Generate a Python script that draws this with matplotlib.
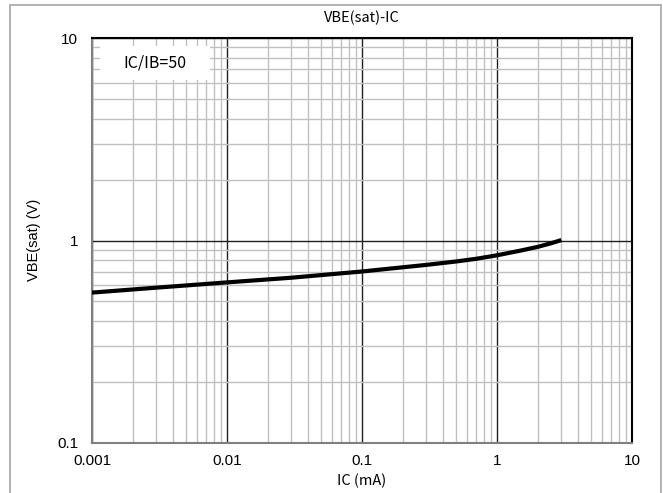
import matplotlib
matplotlib.use("Agg")
import matplotlib.pyplot as plt
from matplotlib.patches import Rectangle
from matplotlib.ticker import LogLocator, FixedLocator, NullFormatter

ic_ma = [0.001, 0.003, 0.01, 0.03, 0.1, 0.3, 0.5, 0.7, 1.0, 1.5, 2.0, 2.5, 3.0]
vbe_sat = [0.553, 0.585, 0.621, 0.655, 0.703, 0.758, 0.788, 0.812, 0.845, 0.892, 0.930, 0.968, 1.005]
x_ticks = [0.001, 0.01, 0.1, 1, 10]
x_tick_labels = ["0.001", "0.01", "0.1", "1", "10"]
y_ticks = [0.1, 1, 10]
y_tick_labels = ["0.1", "1", "10"]
title = "VBE(sat)-IC"
x_label = "IC (mA)"
y_label = "VBE(sat) (V)"
note = "IC/IB=50"

W, H = 663, 493
fig = plt.figure(figsize=(W / 100, H / 100), dpi=100)
ax = fig.add_axes([92 / W, 1 - 443 / H, (632 - 92) / W, (443 - 38) / H])

# figure frame
fig.patches.append(Rectangle((9.5 / W, -0.1), (660.5 - 9.5) / W, 1.1 - 5.5 / H,
                             transform=fig.transFigure, fill=False,
                             edgecolor="#a6a6a6", linewidth=1.2))

ax.set_xscale("log")
ax.set_yscale("log")
ax.set_xlim(0.001, 10)
ax.set_ylim(0.1, 10)

ax.xaxis.set_major_locator(FixedLocator(x_ticks))
ax.yaxis.set_major_locator(FixedLocator(y_ticks))
ax.set_xticklabels(x_tick_labels)
ax.set_yticklabels(y_tick_labels)
ax.xaxis.set_minor_locator(LogLocator(base=10, subs=range(2, 10), numticks=20))
ax.yaxis.set_minor_locator(LogLocator(base=10, subs=range(2, 10), numticks=20))
ax.xaxis.set_minor_formatter(NullFormatter())
ax.yaxis.set_minor_formatter(NullFormatter())

ax.grid(which="minor", color="#c0c0c0", linewidth=1.0)
ax.grid(which="major", color="#202020", linewidth=1.0)
ax.set_axisbelow(True)
ax.tick_params(which="both", length=0)
ax.tick_params(axis="x", pad=8)
ax.tick_params(axis="y", pad=10)

for s in ["left", "bottom"]:
    ax.spines[s].set_color("#808080")
    ax.spines[s].set_linewidth(1.5)
for s in ["top", "right"]:
    ax.spines[s].set_color("#000000")
    ax.spines[s].set_linewidth(1.5)

ax.plot(ic_ma, vbe_sat, color="black", linewidth=3, solid_capstyle="butt", zorder=3)

tick_font = "Liberation Sans"
for lab in ax.get_xticklabels() + ax.get_yticklabels():
    lab.set_fontfamily(tick_font)
    lab.set_fontsize(11)

fig.text((92 + 632) / 2 / W, 1 - 18 / H, title, ha="center", va="center",
         fontsize=10.5, family=["Noto Sans CJK JP", "DejaVu Sans"])
fig.text(362 / W, 1 - 481 / H, x_label, ha="center", va="center",
         fontsize=10.5, family=["Noto Sans CJK JP", "DejaVu Sans"])
fig.text(34 / W, 1 - 240 / H, y_label, ha="center", va="center", rotation=90,
         fontsize=10.5, family=["Liberation Sans", "DejaVu Sans"])

# note box
ax.add_patch(Rectangle((100 / W, 1 - 80 / H), (210 - 100) / W, (80 - 46) / H,
                       transform=fig.transFigure, facecolor="white",
                       edgecolor="none", zorder=4))
fig.text(155 / W, 1 - 63 / H, note, ha="center", va="center", fontsize=11.5,
         family=["Noto Sans CJK JP", "DejaVu Sans"], zorder=5)

fig.savefig("out.png", dpi=100)
